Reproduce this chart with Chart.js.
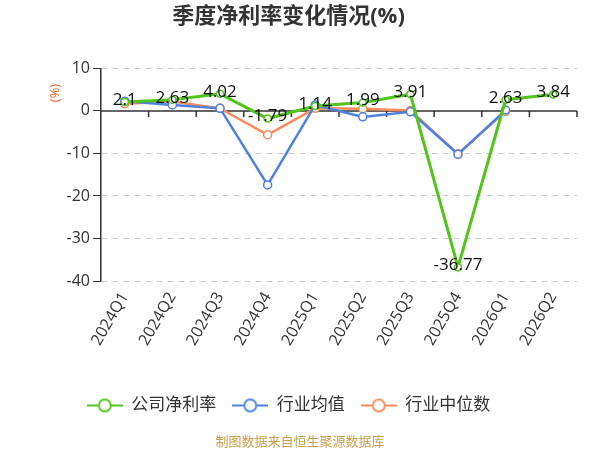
<!DOCTYPE html>
<html>
<head>
<meta charset="utf-8">
<script src="https://cdn.jsdelivr.net/npm/chart.js@4/dist/chart.umd.min.js"></script>
<style>
  html, body { margin: 0; padding: 0; background: #fff; }
  #wrap { width: 600px; height: 450px; }
</style>
</head>
<body>
<div id="wrap"><canvas id="chart1"></canvas></div>
<script>
const quarters = ['2024Q1', '2024Q2', '2024Q3', '2024Q4', '2025Q1', '2025Q2', '2025Q3', '2025Q4', '2026Q1', '2026Q2'];
const companyRate = [2.1, 2.63, 4.02, -1.79, 1.14, 1.99, 3.91, -36.77, 2.63, 3.84];
const industryMean = [2.3, 1.4, 0.6, -17.4, 1.4, -1.4, -0.2, -10.2, 0.2, null];
const industryMedian = [1.7, 2.2, 0.6, -5.6, 0.6, 0.5, 0.1, -10.1, -0.1, null];
const yTicks = [10, 0, -10, -20, -30, -40];

const FONT = '"Open Sans", "Noto Sans CJK SC", sans-serif';
const GREEN = '#52c41a', BLUE = '#4f80e2', ORANGE = '#f98c5c';

// legend icon: short line with a hollow circle
function legendIcon(color) {
  const c = document.createElement('canvas');
  c.width = 36; c.height = 16;
  const g = c.getContext('2d');
  g.strokeStyle = color; g.lineWidth = 1.8;
  g.beginPath(); g.moveTo(0, 8); g.lineTo(36, 8); g.stroke();
  g.fillStyle = '#fff';
  g.beginPath(); g.arc(18, 8, 6, 0, Math.PI * 2); g.fill(); g.stroke();
  return c;
}

// zero axis with ticks, values on the company line, y unit and source note
const extras = {
  id: 'extras',
  beforeDatasetsDraw(chart) {
    const ctx = chart.ctx;
    const xs = chart.scales.x, ys = chart.scales.y;
    const y0 = ys.getPixelForValue(0);
    ctx.save();
    ctx.strokeStyle = '#333';
    ctx.lineWidth = 1.5;
    ctx.beginPath();
    ctx.moveTo(chart.chartArea.left, y0);
    ctx.lineTo(chart.chartArea.right, y0);
    for (let i = 1; i <= quarters.length; i++) {
      const x = xs.getPixelForValue(i - 0.5);
      ctx.moveTo(x, y0);
      ctx.lineTo(x, y0 + 6);
    }
    ctx.stroke();
    ctx.restore();
  },
  afterDatasetsDraw(chart) {
    const ctx = chart.ctx;
    const meta = chart.getDatasetMeta(0);
    ctx.save();
    ctx.font = '17px ' + FONT;
    ctx.fillStyle = '#111';
    ctx.textAlign = 'center';
    ctx.textBaseline = 'middle';
    meta.data.forEach((pt, i) => {
      if (companyRate[i] === null) return;
      ctx.fillText(String(companyRate[i]), pt.x, pt.y - 2);
    });
    ctx.restore();
  },
  afterDraw(chart) {
    const ctx = chart.ctx;
    ctx.save();
    ctx.translate(55, 93);
    ctx.rotate(-Math.PI / 2);
    ctx.font = '13px ' + FONT;
    ctx.fillStyle = '#f0622a';
    ctx.textAlign = 'center';
    ctx.textBaseline = 'middle';
    ctx.fillText('(%)', 0, 0);
    ctx.restore();
    ctx.save();
    ctx.font = '13px "Noto Sans CJK SC", sans-serif';
    ctx.fillStyle = '#c9a14a';
    ctx.textAlign = 'center';
    ctx.textBaseline = 'middle';
    ctx.fillText('制图数据来自恒生聚源数据库', 300, 441);
    ctx.restore();
  }
};

const ctx1 = document.getElementById('chart1').getContext('2d');
new Chart(ctx1, {
  type: 'line',
  data: {
    labels: quarters,
    datasets: [
      { label: '公司净利率', data: companyRate, borderColor: GREEN, backgroundColor: '#fff', borderWidth: 3,
        pointRadius: 3.5, pointBorderWidth: 1.5, pointBackgroundColor: '#fff', pointBorderColor: GREEN },
      { label: '行业均值', data: industryMean, borderColor: BLUE, backgroundColor: '#fff', borderWidth: 2.5,
        pointRadius: 4, pointBorderWidth: 1.5, pointBackgroundColor: '#fff', pointBorderColor: BLUE },
      { label: '行业中位数', data: industryMedian, borderColor: ORANGE, backgroundColor: '#fff', borderWidth: 2.5,
        pointRadius: 4, pointBorderWidth: 1.5, pointBackgroundColor: '#fff', pointBorderColor: ORANGE }
    ]
  },
  options: {
    responsive: true,
    maintainAspectRatio: false,
    animation: false,
    layout: { padding: { left: 0, right: 23, top: 0, bottom: 26 } },
    elements: { line: { tension: 0 } },
    plugins: {
      title: {
        display: true,
        text: '季度净利率变化情况(%)',
        color: '#333',
        font: { family: FONT, size: 22, weight: 'bold' },
        padding: { top: 4, bottom: 38 }
      },
      legend: {
        position: 'bottom',
        labels: {
          usePointStyle: true,
          pointStyleWidth: 36,
          color: '#333',
          font: { family: FONT, size: 17 },
          padding: 16,
          generateLabels(chart) {
            return chart.data.datasets.map((ds, i) => ({
              text: ds.label,
              pointStyle: legendIcon(ds.borderColor),
              fontColor: '#333',
              strokeStyle: ds.borderColor,
              fillStyle: '#fff',
              lineWidth: 0,
              hidden: false,
              datasetIndex: i
            }));
          }
        }
      },
      tooltip: { enabled: false }
    },
    scales: {
      x: {
        offset: true,
        grid: { display: false, drawOnChartArea: false, drawTicks: false },
        border: { display: false },
        ticks: { color: '#333', font: { family: FONT, size: 16 }, minRotation: 60, maxRotation: 60, padding: 8 },
        afterFit(scale) { scale.height = 100; }
      },
      y: {
        min: -40,
        max: 10,
        afterBuildTicks(scale) { scale.ticks = yTicks.map(v => ({ value: v })); },
        grid: { color: ctx => ctx.tick && ctx.tick.value === 0 ? 'rgba(0,0,0,0)' : '#ccc', lineWidth: 1, tickLength: 8, tickColor: '#333', tickBorderDash: [] },
        border: { display: true, color: '#333', width: 1.5, dash: [6, 5] },
        ticks: { color: '#333', font: { family: FONT, size: 16 }, padding: 3 },
        afterFit(scale) { scale.width = 101; }
      }
    }
  },
  plugins: [extras]
});
</script>
</body>
</html>
